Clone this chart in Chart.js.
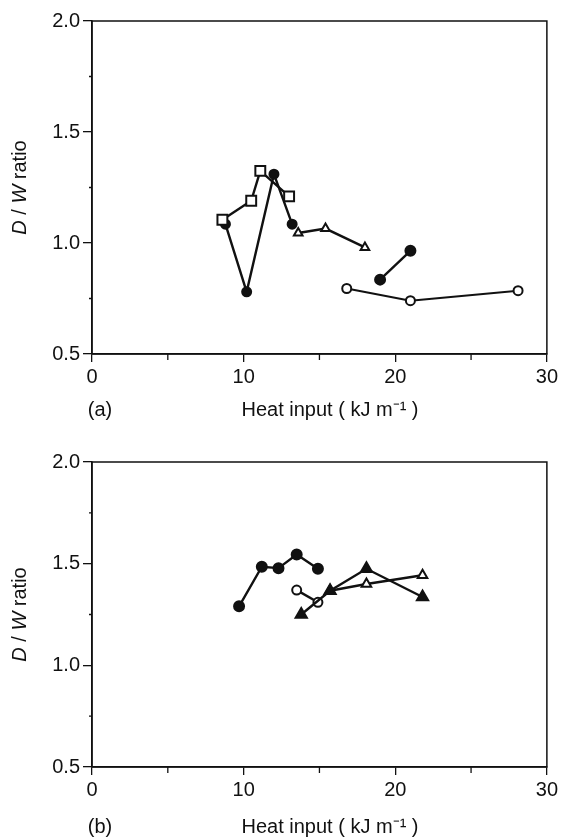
<!DOCTYPE html>
<html>
<head>
<meta charset="utf-8">
<script src="https://cdn.jsdelivr.net/npm/chart.js@4.4.0/dist/chart.umd.min.js"></script>
<style>
  body { margin: 0; background: #fff; }
  .panel { position: absolute; left: 0; width: 561px; }
  #pa { top: 0; height: 420px; }
  #pb { top: 420px; height: 417px; }
</style>
</head>
<body>
<div class="panel" id="pa"><canvas id="chartA"></canvas></div>
<div class="panel" id="pb"><canvas id="chartB"></canvas></div>
<script>
// panel (a)
const sqX = [8.6, 10.5, 11.1, 13.0];
const sqY = [1.105, 1.19, 1.325, 1.21];
const dotX = [8.8, 10.2, 12.0, 13.2];
const dotY = [1.085, 0.78, 1.31, 1.085];
const triX = [13.6, 15.4, 18.0];
const triY = [1.045, 1.065, 0.98];
const dot2X = [19.0, 21.0];
const dot2Y = [0.835, 0.965];
const ringX = [16.8, 21.0, 28.1];
const ringY = [0.795, 0.74, 0.785];

// panel (b)
const bDotX = [9.7, 11.2, 12.3, 13.5, 14.9];
const bDotY = [1.29, 1.485, 1.478, 1.545, 1.475];
const bRingX = [13.5, 14.9];
const bRingY = [1.37, 1.31];
const bTriFX = [13.8, 15.7, 18.1, 21.8];
const bTriFY = [1.25, 1.367, 1.475, 1.336];
const bTriOX = [15.7, 18.1, 21.8];
const bTriOY = [1.367, 1.40, 1.443];

const xTicks = [0, 10, 20, 30];
const xMinor = [5, 15, 25];
const yMinor = [0.75, 1.25, 1.75];

const FONT = '"Liberation Sans", Arial, sans-serif';
const FS = 20;

function pts(xs, ys) {
  return xs.map((x, i) => ({ x: x, y: ys[i] }));
}

function series(xs, ys, style, filled, radius, width) {
  return {
    data: pts(xs, ys),
    showLine: true,
    borderColor: '#111',
    borderWidth: width || 2.4,
    pointStyle: style,
    pointRadius: radius,
    pointBorderWidth: 2,
    pointBorderColor: '#111',
    pointBackgroundColor: filled ? '#111' : '#fff',
    tension: 0
  };
}

const extras = {
  id: 'extras',
  afterDraw(chart, args, opts) {
    const ctx = chart.ctx;
    const a = chart.chartArea;
    const xs = chart.scales.x, ys = chart.scales.y;
    ctx.save();
    ctx.strokeStyle = '#111';
    ctx.lineWidth = 1.5;
    ctx.strokeRect(a.left, a.top, a.right - a.left, a.bottom - a.top);
    ctx.lineWidth = 1.3;
    ctx.beginPath();
    xMinor.forEach(v => {
      const px = xs.getPixelForValue(v);
      ctx.moveTo(px, a.bottom);
      ctx.lineTo(px, a.bottom + 6);
    });
    yMinor.forEach(v => {
      const py = ys.getPixelForValue(v);
      ctx.moveTo(a.left - 3, py);
      ctx.lineTo(a.left, py);
    });
    ctx.stroke();

    // y axis title, D and W in italics
    ctx.fillStyle = '#111';
    ctx.textBaseline = 'middle';
    const parts = [['D', true], [' / ', false], ['W', true], [' ratio', false]];
    let total = 0;
    parts.forEach(p => {
      ctx.font = (p[1] ? 'italic ' : '') + FS + 'px ' + FONT;
      total += ctx.measureText(p[0]).width;
    });
    ctx.translate(20, (a.top + a.bottom) / 2);
    ctx.rotate(-Math.PI / 2);
    let off = -total / 2;
    ctx.textAlign = 'left';
    parts.forEach(p => {
      ctx.font = (p[1] ? 'italic ' : '') + FS + 'px ' + FONT;
      ctx.fillText(p[0], off, 0);
      off += ctx.measureText(p[0]).width;
    });
    ctx.restore();

    ctx.save();
    ctx.fillStyle = '#111';
    ctx.font = FS + 'px ' + FONT;
    ctx.textBaseline = 'middle';
    ctx.textAlign = 'center';
    ctx.fillText(opts.panel, a.left + 8, a.bottom + opts.titleGap);
    ctx.fillText('Heat input ( kJ m\u207B\u00B9 )', 330, a.bottom + opts.titleGap);
    ctx.restore();
  }
};

function makeChart(id, datasets, top, bottomH, panel, titleGap) {
  return new Chart(document.getElementById(id), {
    type: 'scatter',
    data: { datasets: datasets },
    plugins: [extras],
    options: {
      responsive: true,
      maintainAspectRatio: false,
      animation: false,
      layout: { padding: { top: top, right: 14, left: 0, bottom: 0 } },
      plugins: {
        legend: { display: false },
        tooltip: { enabled: false },
        extras: { panel: panel, titleGap: titleGap }
      },
      scales: {
        x: {
          type: 'linear', min: 0, max: 30,
          afterBuildTicks: s => { s.ticks = xTicks.map(v => ({ value: v })); },
          afterFit: s => { s.height = bottomH; },
          ticks: { color: '#111', font: { family: FONT, size: FS }, padding: 3, maxRotation: 0 },
          grid: { drawOnChartArea: false, tickLength: 8, color: '#111', lineWidth: 1.3 },
          border: { color: '#111', width: 1.5 }
        },
        y: {
          min: 0.5, max: 2.0,
          afterFit: s => { s.width = 92; },
          ticks: { stepSize: 0.5, color: '#111', font: { family: FONT, size: FS }, padding: 3,
                   callback: v => v.toFixed(1) },
          grid: { drawOnChartArea: false, tickLength: 9, color: '#111', lineWidth: 1.3 },
          border: { color: '#111', width: 1.5 }
        }
      }
    }
  });
}

makeChart('chartA', [
  series(sqX, sqY, 'rect', false, 7),
  series(dotX, dotY, 'circle', true, 4.5),
  series(triX, triY, 'triangle', false, 5),
  series(dot2X, dot2Y, 'circle', true, 5),
  series(ringX, ringY, 'circle', false, 4.5, 2)
], 21, 420 - 354, '(a)', 56);

makeChart('chartB', [
  series(bDotX, bDotY, 'circle', true, 5),
  series(bTriFX, bTriFY, 'triangle', true, 6.5),
  series(bRingX, bRingY, 'circle', false, 4.5),
  series(bTriOX, bTriOY, 'triangle', false, 5.5)
], 42, 417 - 347, '(b)', 60);
</script>
</body>
</html>
